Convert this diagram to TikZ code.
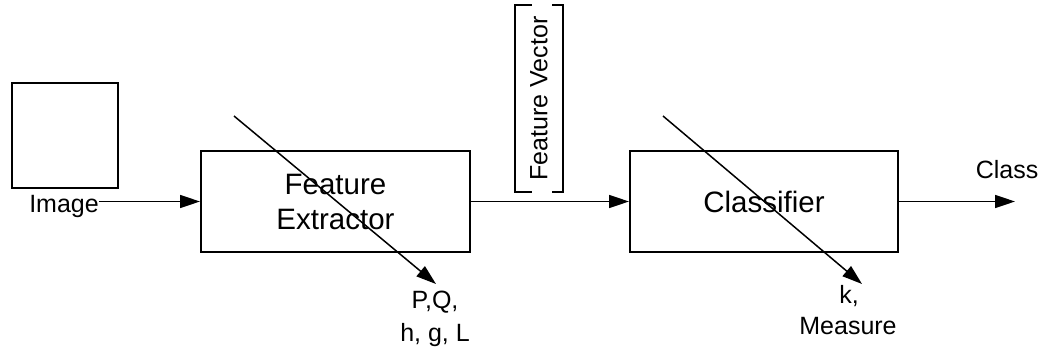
\documentclass[tikz,border=0pt]{standalone}
\usepackage{fontspec}
\setmainfont{Liberation Sans}
\usepackage{graphicx}
\usetikzlibrary{arrows.meta}
\begin{document}
\begin{tikzpicture}[x=1pt,y=-1pt,
  box/.style={draw,line width=2pt,inner sep=0pt},
  lbl/.style={font=\fontsize{25}{33}\selectfont,inner sep=0pt},
  boxtxt/.style={font=\fontsize{29.5}{35}\selectfont,align=center},
  arr/.style={line width=1.7pt,-{Triangle[length=20pt,width=13pt]}},
  diag/.style={line width=1.5pt,-{Triangle[length=20pt,width=13pt]}},
  brk/.style={line width=2pt}]
\useasboundingbox (0,0) rectangle (1047,351);
% image square
\node[box,minimum width=106pt,minimum height=105pt] (img) at (65,135.5) {};
\node[lbl,anchor=base] (imglbl) at (64,212) {Image};
% feature extractor
\node[box,boxtxt,minimum width=269pt,minimum height=101pt] (fe) at (335.5,201.5) {Feature\\Extractor};
\draw[arr] (imglbl.east |- fe.west) -- (fe.west);
\coordinate (d1s) at (234,116);
\coordinate (d1e) at (436,284);
\draw[diag] (d1s) -- (d1e);
\node[lbl,anchor=base] (pq1) at (435,308) {P,Q,};
\node[lbl,anchor=base] (pq2) at (435,341) {h, g, L};
% classifier
\node[box,boxtxt,minimum width=268pt,minimum height=101pt] (cl) at (764,201.5) {Classifier};
\draw[arr] (fe.east) -- (cl.west);
\coordinate (d2s) at (663,116);
\coordinate (d2e) at (862,284);
\draw[diag] (d2s) -- (d2e);
\node[lbl,anchor=base] (k1) at (849,303) {k,};
\node[lbl,anchor=base] (k2) at (848,334) {Measure};
% output
\coordinate (out) at (1015,201.5);
\draw[arr] (cl.east) -- (out);
\node[lbl,anchor=base] (cls) at (1007,178) {Class};
% feature vector bracket
\node[lbl,minimum width=48pt,minimum height=187pt] (fv) at (539,98.5) {\rotatebox{90}{Feature Vector}};
\draw[brk] ([xshift=17pt]fv.north west) -- (fv.north west) -- (fv.south west) -- ([xshift=17pt]fv.south west);
\draw[brk] ([xshift=-11pt]fv.north east) -- (fv.north east) -- (fv.south east) -- ([xshift=-11pt]fv.south east);
\end{tikzpicture}
\end{document}
